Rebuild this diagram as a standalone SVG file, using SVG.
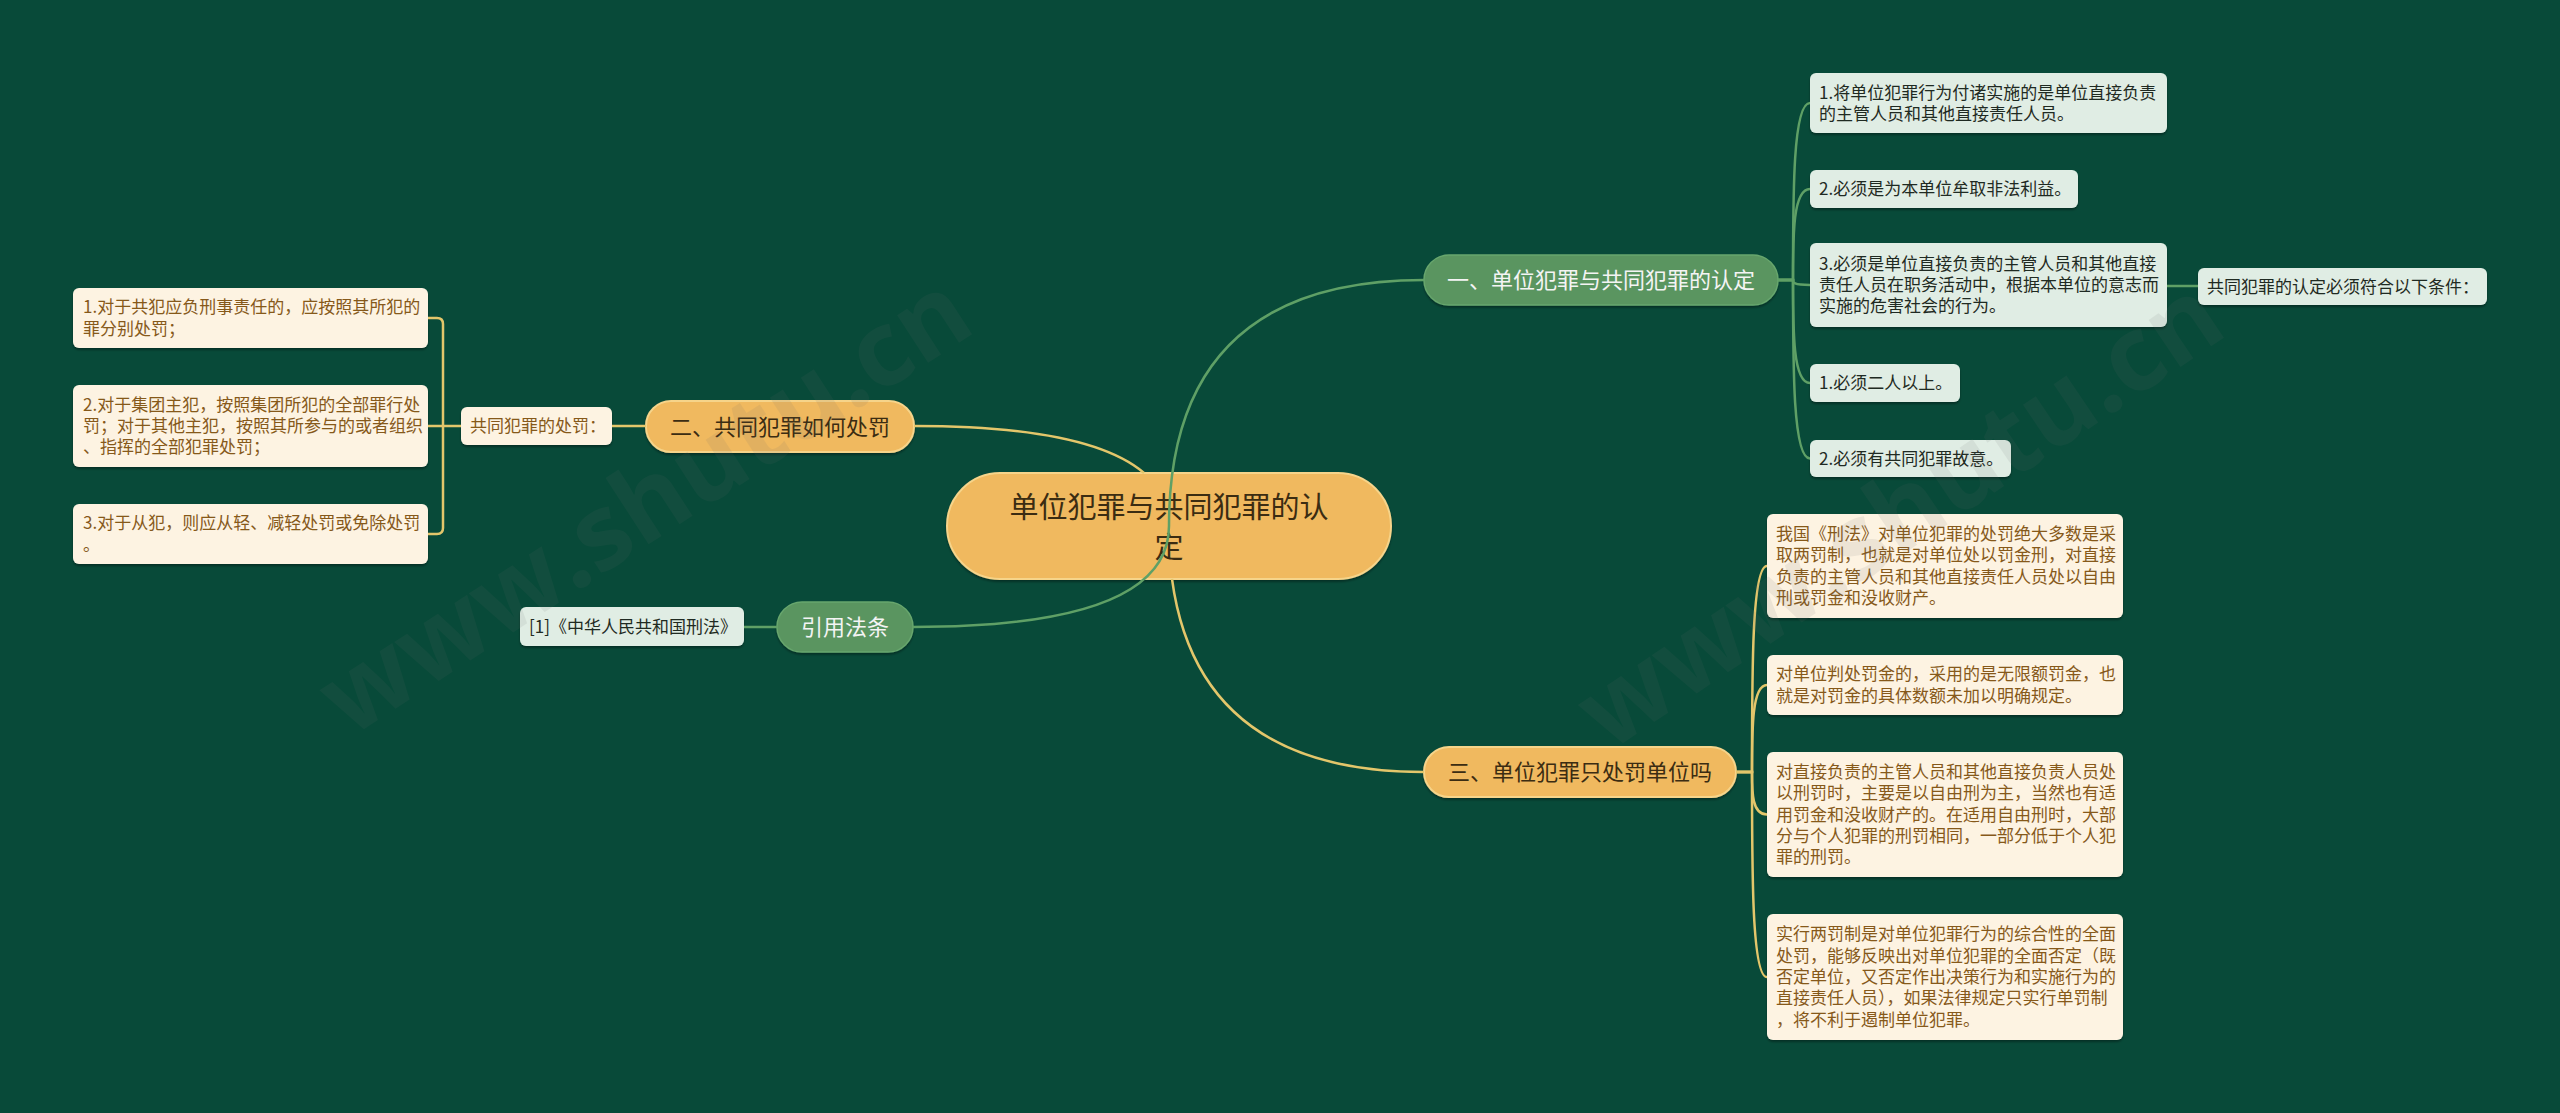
<svg xmlns="http://www.w3.org/2000/svg" width="2560" height="1113" viewBox="0 0 2560 1113">
<defs>
<filter id="sh" x="-5%" y="-10%" width="110%" height="130%">
<feDropShadow dx="0" dy="2" stdDeviation="1.2" flood-color="#000" flood-opacity="0.35"/>
</filter>
<style>
text{font-family:"Noto Sans CJK SC","Noto Sans",sans-serif}
.bg{fill:#084a39}
.bxg{fill:#e0ede4;filter:url(#sh)}
.bxc{fill:#fdf3e2;filter:url(#sh)}
.tg{font-size:17px;fill:#1f2a22}
.tc{font-size:17px;fill:#86591a}
.ny{fill:#f0b95e;stroke:#f6d48a;stroke-width:2;filter:url(#sh)}
.ng{fill:#5a9560;stroke:#67a66d;stroke-width:1.5;filter:url(#sh)}
.by{font-size:22px;fill:#3b2c12;text-anchor:middle}
.bg2{font-size:22px;fill:#f4f4f4;text-anchor:middle}
.ct{font-size:29px;fill:#3b2c12;text-anchor:middle}
.cy{stroke:#e3c66b;fill:none;stroke-width:2.5}
.cg{stroke:#5fa066;fill:none;stroke-width:2.5}
.wm{font-family:"Open Sans","DejaVu Sans",sans-serif;font-size:104px;font-weight:bold;fill:#6a6a6a;opacity:0.1}
</style>
</defs>
<rect class="bg" x="0" y="0" width="2560" height="1113"/>

<g id="center">
<rect class="ny" x="947" y="473" width="444" height="106" rx="53"/>
<text class="ct" x="1169" y="518">单位犯罪与共同犯罪的认</text>
<text class="ct" x="1169" y="558">定</text>
</g>

<g id="branch1">
<rect class="ng" x="1424" y="255" width="354" height="50" rx="25"/>
<text class="bg2" x="1601" y="288">一、单位犯罪与共同犯罪的认定</text>
</g>
<g id="b1c1">
<rect class="bxg" x="1810" y="73" width="357" height="60" rx="6"/>
<text class="tg" x="1819" y="98.5">1.将单位犯罪行为付诸实施的是单位直接负责</text>
<text class="tg" x="1819" y="119.8">的主管人员和其他直接责任人员。</text>
</g>
<g id="b1c2">
<rect class="bxg" x="1810" y="170" width="268" height="38" rx="6"/>
<text class="tg" x="1819" y="195">2.必须是为本单位牟取非法利益。</text>
</g>
<g id="b1c3">
<rect class="bxg" x="1810" y="243" width="357" height="84" rx="6"/>
<text class="tg" x="1819" y="270">3.必须是单位直接负责的主管人员和其他直接</text>
<text class="tg" x="1819" y="291">责任人员在职务活动中，根据本单位的意志而</text>
<text class="tg" x="1819" y="312">实施的危害社会的行为。</text>
</g>
<g id="b1c3a">
<rect class="bxg" x="2198" y="268" width="289" height="37" rx="6"/>
<text class="tg" x="2207" y="292.5">共同犯罪的认定必须符合以下条件：</text>
</g>
<g id="b1c4">
<rect class="bxg" x="1810" y="364" width="150" height="38" rx="6"/>
<text class="tg" x="1819" y="389">1.必须二人以上。</text>
</g>
<g id="b1c5">
<rect class="bxg" x="1810" y="440" width="201" height="37" rx="6"/>
<text class="tg" x="1819" y="464.5">2.必须有共同犯罪故意。</text>
</g>

<g id="branch2">
<rect class="ny" x="646" y="401" width="268" height="51" rx="25"/>
<text class="by" x="780" y="434.5">二、共同犯罪如何处罚</text>
</g>
<g id="b2p">
<rect class="bxc" x="461" y="407" width="151" height="38" rx="6"/>
<text class="tc" x="470" y="432">共同犯罪的处罚：</text>
</g>
<g id="b2c1">
<rect class="bxc" x="73" y="288" width="355" height="60" rx="6"/>
<text class="tc" x="83" y="313.4">1.对于共犯应负刑事责任的，应按照其所犯的</text>
<text class="tc" x="83" y="334.6">罪分别处罚；</text>
</g>
<g id="b2c2">
<rect class="bxc" x="73" y="385" width="355" height="82" rx="6"/>
<text class="tc" x="83" y="410.7">2.对于集团主犯，按照集团所犯的全部罪行处</text>
<text class="tc" x="83" y="432">罚；对于其他主犯，按照其所参与的或者组织</text>
<text class="tc" x="83" y="453.3">、指挥的全部犯罪处罚；</text>
</g>
<g id="b2c3">
<rect class="bxc" x="73" y="504" width="355" height="60" rx="6"/>
<text class="tc" x="83" y="529.4">3.对于从犯，则应从轻、减轻处罚或免除处罚</text>
<text class="tc" x="83" y="550.6">。</text>
</g>

<g id="branch4">
<rect class="ng" x="777" y="602" width="136" height="50" rx="25"/>
<text class="bg2" x="845" y="635">引用法条</text>
</g>
<g id="b4c1">
<rect class="bxg" x="520" y="607" width="224" height="39" rx="6"/>
<text class="tg" x="529" y="632.5">[1]《中华人民共和国刑法》</text>
</g>

<g id="branch3">
<rect class="ny" x="1424" y="747" width="312" height="50" rx="25"/>
<text class="by" x="1580" y="780">三、单位犯罪只处罚单位吗</text>
</g>
<g id="b3c1">
<rect class="bxc" x="1767" y="514" width="356" height="104" rx="6"/>
<text class="tc" x="1776" y="540">我国《刑法》对单位犯罪的处罚绝大多数是采</text>
<text class="tc" x="1776" y="561.4">取两罚制，也就是对单位处以罚金刑，对直接</text>
<text class="tc" x="1776" y="582.7">负责的主管人员和其他直接责任人员处以自由</text>
<text class="tc" x="1776" y="604">刑或罚金和没收财产。</text>
</g>
<g id="b3c2">
<rect class="bxc" x="1767" y="655" width="356" height="60" rx="6"/>
<text class="tc" x="1776" y="680.4">对单位判处罚金的，采用的是无限额罚金，也</text>
<text class="tc" x="1776" y="701.6">就是对罚金的具体数额未加以明确规定。</text>
</g>
<g id="b3c3">
<rect class="bxc" x="1767" y="752" width="356" height="125" rx="6"/>
<text class="tc" x="1776" y="777.9">对直接负责的主管人员和其他直接负责人员处</text>
<text class="tc" x="1776" y="799.2">以刑罚时，主要是以自由刑为主，当然也有适</text>
<text class="tc" x="1776" y="820.5">用罚金和没收财产的。在适用自由刑时，大部</text>
<text class="tc" x="1776" y="841.8">分与个人犯罪的刑罚相同，一部分低于个人犯</text>
<text class="tc" x="1776" y="863.1">罪的刑罚。</text>
</g>
<g id="b3c4">
<rect class="bxc" x="1767" y="914" width="356" height="126" rx="6"/>
<text class="tc" x="1776" y="940.4">实行两罚制是对单位犯罪行为的综合性的全面</text>
<text class="tc" x="1776" y="961.7">处罚，能够反映出对单位犯罪的全面否定（既</text>
<text class="tc" x="1776" y="983">否定单位，又否定作出决策行为和实施行为的</text>
<text class="tc" x="1776" y="1004.3">直接责任人员），如果法律规定只实行单罚制</text>
<text class="tc" x="1776" y="1025.6">，将不利于遏制单位犯罪。</text>
</g>

<g id="connectors">
<path class="cg" d="M1169 526 Q1169 280 1424 280"/>
<path class="cg" d="M1169 526 Q1169 627 913 627"/>
<path class="cg" d="M777 627 H744"/>
<path class="cg" d="M1778 280 H1793 C1793 191.5 1793 103 1810 103"/>
<path class="cg" d="M1778 280 H1793 C1793 234.5 1793 189 1810 189"/>
<path class="cg" d="M1778 280 H1793 C1793 282.5 1793 285 1810 285"/>
<path class="cg" d="M1778 280 H1793 C1793 331.5 1793 383 1810 383"/>
<path class="cg" d="M1778 280 H1793 C1793 369 1793 458.5 1810 458.5"/>
<path class="cg" d="M2167 286 H2198"/>
<path class="cy" d="M1144 473 Q1089 426 914 426"/>
<path class="cy" d="M1172 579 Q1198 772 1424 772"/>
<path class="cy" d="M646 426 H612"/>
<path class="cy" d="M461 426 H428"/>
<path class="cy" d="M428 318 H437 Q443 318 443 324 V528 Q443 534 437 534 H428"/>
<path class="cy" d="M1736 772 H1752 C1752 669 1752 566 1767 566"/>
<path class="cy" d="M1736 772 H1752 C1752 728.5 1752 685 1767 685"/>
<path class="cy" d="M1736 772 H1752 C1752 793 1752 814.5 1767 814.5"/>
<path class="cy" d="M1736 772 H1752 C1752 874.5 1752 977 1767 977"/>
</g>

<g id="watermark">
<text class="wm" x="645" y="540" text-anchor="middle" transform="rotate(-33 645 505)">www.shutu.cn</text>
<text class="wm" x="1900" y="549" text-anchor="middle" transform="rotate(-34 1900 514)">www.shutu.cn</text>
</g>
</svg>
